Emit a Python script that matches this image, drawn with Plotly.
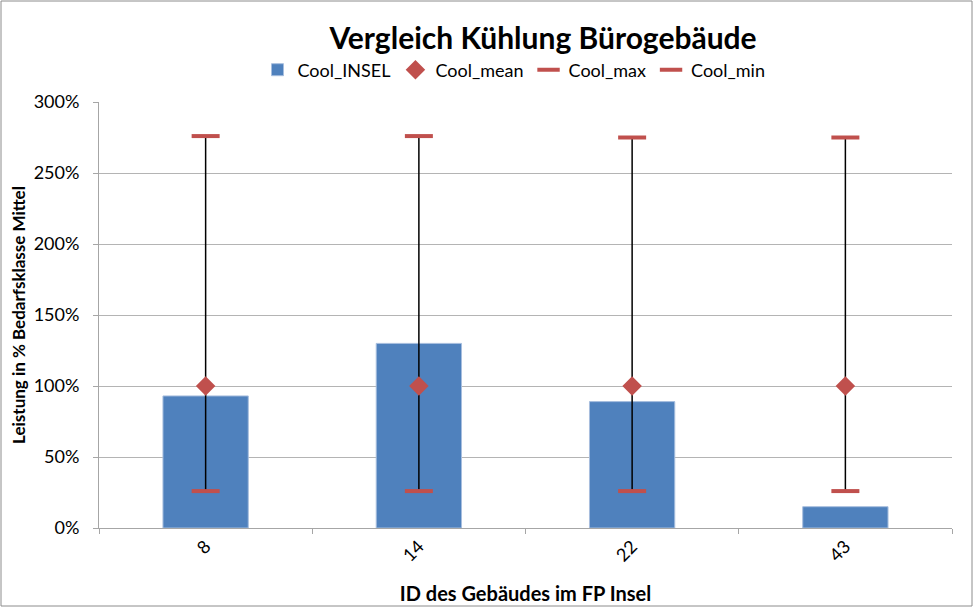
import plotly.graph_objects as go

# Building IDs and cooling load in % of the "Mittel" demand class
buildings = ["8", "14", "22", "43"]
cool_insel = [0.93, 1.30, 0.89, 0.15]
cool_mean = [1.00, 1.00, 1.00, 1.00]
cool_max = [2.76, 2.76, 2.75, 2.75]
cool_min = [0.26, 0.26, 0.26, 0.26]

FONT = "Lato"
RED = "#C0504D"
BLUE = "#4F81BD"

W, H = 974, 608
ML, MR, MT, MB = 99, 22, 102, 80
PW, PH = W - ML - MR, H - MT - MB


def px_x(p):
    return (p - ML) / PW


def px_y(p):
    return (H - MB - p) / PH


# high-low connector lines between min and max of each building
hl_x, hl_y = [], []
for b, lo, hi in zip(buildings, cool_min, cool_max):
    hl_x += [b, b, None]
    hl_y += [lo, hi, None]

fig = go.Figure()
fig.add_trace(go.Bar(
    x=buildings, y=cool_insel, name="Cool_INSEL",
    marker=dict(color=BLUE, line=dict(color="#A7BEDE", width=1)),
    width=0.4,
))
fig.add_trace(go.Scatter(
    x=hl_x, y=hl_y, mode="lines", showlegend=False,
    line=dict(color="black", width=1.5), hoverinfo="skip",
))
fig.add_trace(go.Scatter(
    x=buildings, y=cool_mean, mode="markers", name="Cool_mean",
    marker=dict(symbol="diamond", size=15, color=RED),
))
fig.add_trace(go.Scatter(
    x=buildings, y=cool_max, mode="markers", name="Cool_max",
    marker=dict(symbol="line-ew", size=20, color=RED, line=dict(color=RED, width=4)),
))
fig.add_trace(go.Scatter(
    x=buildings, y=cool_min, mode="markers", name="Cool_min",
    marker=dict(symbol="line-ew", size=20, color=RED, line=dict(color=RED, width=4)),
))

fig.update_layout(
    width=W, height=H,
    margin=dict(l=ML, r=MR, t=MT, b=MB, autoexpand=False),
    paper_bgcolor="white", plot_bgcolor="white",
    font=dict(family=FONT, size=18, color="black"),
    title=dict(
        text="<b>Vergleich Kühlung Bürogebäude</b>",
        font=dict(family=FONT, size=30, color="black"),
        x=543 / W, xref="container", xanchor="center",
        y=1 - 38 / H, yref="container", yanchor="middle",
    ),
    legend=dict(
        orientation="h", x=px_x(514), xanchor="center",
        y=px_y(70), yanchor="middle",
        font=dict(family=FONT, size=18), itemwidth=30, tracegroupgap=0,
    ),
    bargap=0.6,
    showlegend=True,
)
fig.update_xaxes(
    type="category", automargin=False,
    showline=True, linecolor="#A6A6A6", linewidth=1,
    ticks="outside", tickson="boundaries", ticklen=5, tickcolor="#A6A6A6",
    tickangle=-45, showgrid=False,
    tickfont=dict(family=FONT, size=18),
    title=dict(text="<b>ID des Gebäudes im FP Insel</b>", font=dict(family=FONT, size=20), standoff=22),
)
fig.update_yaxes(
    range=[0, 3], dtick=0.5, tickformat=".0%", automargin=False,
    showline=True, linecolor="#A6A6A6", linewidth=1,
    ticks="outside", ticklen=5, tickcolor="#A6A6A6", ticklabelstandoff=10,
    showgrid=True, gridcolor="#B4B4B4", gridwidth=1, zeroline=False,
    tickfont=dict(family=FONT, size=18),
    title=dict(text="<b>Leistung in % Bedarfsklasse Mittel</b>", font=dict(family=FONT, size=17), standoff=3),
)

# chart area border
fig.add_shape(
    type="rect", xref="paper", yref="paper",
    x0=px_x(1), x1=px_x(972), y0=px_y(606), y1=px_y(1),
    line=dict(color="#8C8C8C", width=1), layer="below",
)

fig.write_html("out.html")
